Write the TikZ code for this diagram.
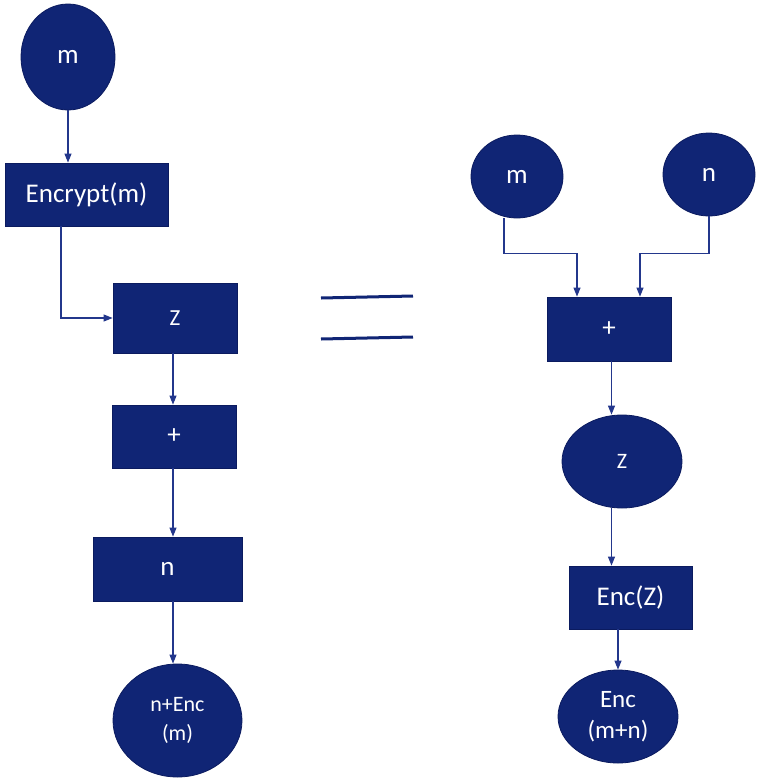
\documentclass[tikz,border=0pt]{standalone}
\usepackage{fontspec}
\setmainfont{Carlito}
\usetikzlibrary{shapes.geometric,arrows.meta}
\definecolor{navy}{RGB}{16,37,117}
\definecolor{navyline}{RGB}{11,27,95}
\definecolor{arrowblue}{RGB}{35,55,140}
\tikzset{
  box/.style={rectangle,draw=navyline,fill=navy,text=white,inner sep=0pt,line width=0.8pt},
  blob/.style={ellipse,draw=navyline,fill=navy,text=white,inner sep=0pt,align=center,line width=0.8pt},
  link/.style={draw=arrowblue,line width=1.1pt,-{Triangle[length=9pt,width=7pt]}}
}
\begin{document}
\begin{tikzpicture}[x=1pt,y=-1pt,font=\fontsize{27}{31}\selectfont]
\useasboundingbox (0,0) rectangle (762,782);

% left side
\node[blob,minimum width=94,minimum height=106] (m1) at (68,57) {m};
\node[box,minimum width=163,minimum height=63] (enc) at (86.5,194.5) {Encrypt(m)};
\node[box,minimum width=124,minimum height=70,font=\fontsize{23}{27}\selectfont] (z1) at (175,318) {Z};
\node[box,minimum width=124,minimum height=63] (plus1) at (174,436.5) {+};
\node[box,minimum width=149,minimum height=64] (nbox) at (167.5,569) {n};
\node[blob,minimum width=129,minimum height=113,font=\fontsize{22}{29}\selectfont] (res1) at (177.5,720.5) {n+Enc\\(m)};

\draw[link] (m1.south) -- (m1.south |- enc.north);
\draw[link] ([xshift=-25.5pt]enc.south) |- (z1.west);
\draw[link] ([xshift=-2pt]z1.south) -- ([xshift=-2pt]z1.south |- plus1.north);
\draw[link] ([xshift=-1pt]plus1.south) -- ([xshift=-1pt]plus1.south |- nbox.north);
\draw[link] ([xshift=-1pt]plus1.south |- nbox.south) -- ([xshift=-1pt]plus1.south |- res1.north);

% equals sign
\begin{scope}[navy,line width=3pt]
\draw (321,298) -- (413,296);
\draw (321,339) -- (413,337);
\end{scope}

% right side
\node[blob,minimum width=92,minimum height=83] (m2) at (517,176.5) {m};
\node[blob,minimum width=92,minimum height=83] (n2) at (709,174.5) {n};
\node[box,minimum width=124,minimum height=64] (plus2) at (609,329) {+};
\node[blob,minimum width=120,minimum height=93,font=\fontsize{22}{27}\selectfont] (z2) at (622,461.5) {Z};
\node[box,minimum width=123,minimum height=63] (encz) at (630.5,597.5) {Enc(Z)};
\node[blob,minimum width=120,minimum height=93,font=\fontsize{25}{31}\selectfont] (res2) at (618,716.5) {Enc\\(m+n)};

\draw[link] ([xshift=-13pt]m2.south) |- ([xshift=-32pt,yshift=43pt]plus2.north) -- ([xshift=-32pt]plus2.north);
\draw[link] (n2.south) |- ([xshift=31pt,yshift=43pt]plus2.north) -- ([xshift=31pt]plus2.north);
\draw[link] ([xshift=2.5pt]plus2.south) -- ([xshift=2.5pt]plus2.south |- z2.north);
\draw[link] ([xshift=2.5pt]plus2.south |- z2.south) -- ([xshift=2.5pt]plus2.south |- encz.north);
\draw[link] (res2.north |- encz.south) -- (res2.north);

\end{tikzpicture}
\end{document}
